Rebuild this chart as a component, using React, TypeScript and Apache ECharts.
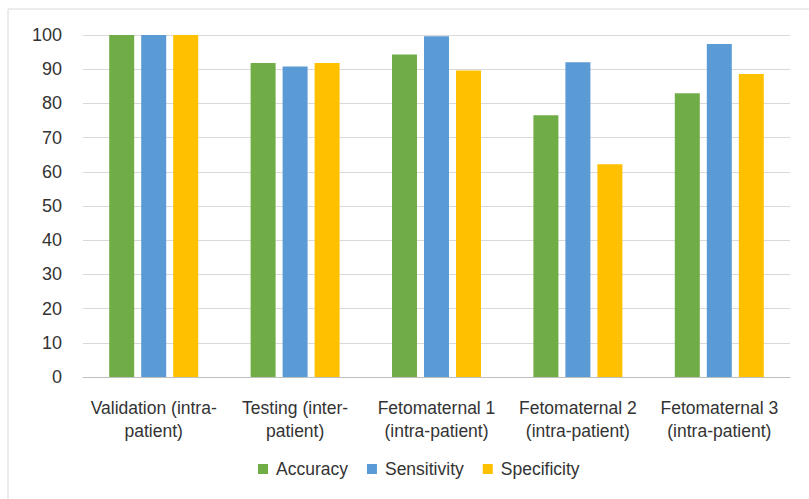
import React, { useEffect, useRef } from "react";
import * as echarts from "echarts";

const categories = [
  "Validation (intra-\npatient)",
  "Testing (inter-\npatient)",
  "Fetomaternal 1\n(intra-patient)",
  "Fetomaternal 2\n(intra-patient)",
  "Fetomaternal 3\n(intra-patient)",
];
const accuracy = [100, 91.8, 94.3, 76.5, 83.0];
const sensitivity = [100, 90.8, 99.6, 92.0, 97.4];
const specificity = [100, 91.8, 89.6, 62.2, 88.6];

const FONT = "'Liberation Sans', Arial, sans-serif";

export default function App() {
  const ref = useRef<HTMLDivElement>(null);
  useEffect(() => {
    if (!ref.current) return;
    const chart = echarts.init(ref.current, undefined, { renderer: "svg" });
    const mk = (name: string, data: number[], color: string) => ({
      name,
      type: "bar",
      data,
      barWidth: 25,
      barGap: "28%",
      itemStyle: { color },
    });
    chart.setOption({
      animation: false,
      backgroundColor: "#ffffff",
      textStyle: { fontFamily: FONT },
      grid: { left: 83, right: 19, top: 35, bottom: 122 },
      graphic: [
        {
          type: "rect",
          shape: { x: 8, y: 9, width: 820, height: 520 },
          style: { fill: "none", stroke: "#d9d9d9", lineWidth: 1 },
          silent: true,
        },
      ],
      legend: {
        bottom: 16,
        left: 253,
        itemWidth: 10,
        itemHeight: 10,
        itemGap: 19,
        icon: "rect",
        textStyle: {
          fontSize: 17.5,
          color: "#333333",
          fontFamily: FONT,
          padding: [0, 0, 0, 3],
        },
        data: ["Accuracy", "Sensitivity", "Specificity"],
      },
      xAxis: {
        type: "category",
        data: categories,
        axisTick: { show: false },
        axisLine: { lineStyle: { color: "#bfbfbf" } },
        axisLabel: {
          color: "#333333",
          fontSize: 17.5,
          lineHeight: 23,
          margin: 19,
          interval: 0,
          fontFamily: FONT,
        },
      },
      yAxis: {
        type: "value",
        min: 0,
        max: 100,
        interval: 10,
        axisLine: { show: false },
        axisTick: { show: false },
        splitLine: { lineStyle: { color: "#d9d9d9", width: 1 } },
        axisLabel: { color: "#333333", fontSize: 18, margin: 21, fontFamily: FONT },
      },
      series: [
        mk("Accuracy", accuracy, "#70AD47"),
        mk("Sensitivity", sensitivity, "#5B9BD5"),
        mk("Specificity", specificity, "#FFC000"),
      ],
    });
    return () => chart.dispose();
  }, []);
  return <div ref={ref} style={{ width: 809, height: 499, position: "absolute", left: 0, top: 0 }} />;
}
